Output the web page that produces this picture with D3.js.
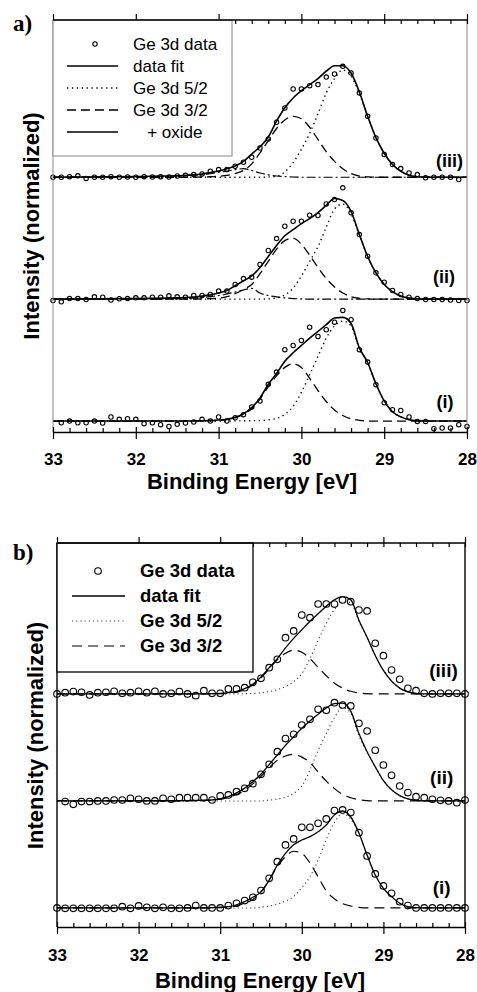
<!DOCTYPE html>
<html><head><meta charset="utf-8">
<script src="https://cdn.jsdelivr.net/npm/d3@7"></script>
<style>body{margin:0;background:#fff} svg{display:block}</style>
</head><body>
<svg id="chart" width="477" height="992"></svg>
<script>
// ---------- DATA ----------
const majorTicks = [33, 32, 31, 30, 29, 28];
const tickLabels = ["33", "32", "31", "30", "29", "28"];
const minorTicks = [32.8,32.6,32.4,32.2,31.8,31.6,31.4,31.2,30.8,30.6,30.4,30.2,29.8,29.6,29.4,29.2,28.8,28.6,28.4,28.2];
const spectrumLabels = ["(i)", "(ii)", "(iii)"];
const spectrumOffsets = [0, 1, 2];
const legendLabelsA = ["Ge 3d data", "data fit", "Ge 3d 5/2", "Ge 3d 3/2", "   + oxide"];
const legendLabelsB = ["Ge 3d data", "data fit", "Ge 3d 5/2", "Ge 3d 3/2"];
const xTitle = "Binding Energy [eV]";
const yTitle = "Intensity (normalized)";

// measured energies (eV)
const E = [33.0,32.9,32.8,32.7,32.6,32.5,32.4,32.3,32.2,32.1,32.0,31.9,31.8,31.7,31.6,31.5,31.4,31.3,31.2,31.1,31.0,
  30.9,30.8,30.7,30.6,30.5,30.4,30.3,30.2,30.1,30.0,29.9,29.8,29.7,29.6,29.5,29.4,29.3,29.2,29.1,29.0,
  28.9,28.8,28.7,28.6,28.5,28.4,28.3,28.2,28.1,28.0];
// energies at which the fit curves were read
const curveE = [33.0,31.5,31.4,31.3,31.2,31.1,31.0,30.9,30.8,30.7,30.6,30.5,30.4,30.3,30.2,30.1,30.0,
  29.9,29.8,29.7,29.6,29.5,29.4,29.3,29.2,29.1,29.0,28.9,28.8,28.7,28.6,28.5,28.0];

// Panel a) data points
const dataA_i = [null,-0.014,0,-0.014,-0.014,0,-0.016,0.033,0.014,0.019,0.014,-0.022,-0.014,-0.030,-0.044,-0.027,-0.016,-0.008,0.014,0,0.033,
  0,0.027,0.052,0.115,0.164,0.301,0.402,0.585,0.620,0.661,0.770,0.694,0.749,0.811,0.907,0.831,0.585,0.484,0.298,0.150,
  0.093,0.087,0.033,-0.003,-0.003,-0.063,-0.057,-0.057,-0.030,-0.044];
const dataA_ii = [-0.011,-0.022,0.005,0.005,-0.003,0.019,0.016,-0.008,0.003,0.005,0.011,0.011,0.016,0.016,0.027,0.019,0.016,0.030,0.030,0.038,0.066,
  0.066,0.120,0.169,0.180,0.284,0.399,0.497,0.598,0.639,0.639,0.689,0.686,0.781,0.817,0.913,0.708,0.530,0.352,0.216,0.139,
  0.071,0.038,0.016,0.005,-0.003,-0.003,-0.003,-0.008,-0.011,-0.011];
const dataA_iii = [0,0,0.005,0.012,-0.01,0,0,0.005,0,0.002,0,0.005,0.002,0.005,0.002,0.01,0.016,0.022,0.027,0.049,0.063,
  0.063,0.090,0.123,0.164,0.240,0.314,0.451,0.568,0.724,0.724,0.751,0.760,0.822,0.847,0.910,0.855,0.691,0.500,0.322,0.186,
  0.104,0.071,0.035,0.022,-0.005,0,0,0,-0.019,null];
// Panel a) fit curves
const fitA_i  = [0,0,0,0.001,0.002,0.004,0.008,0.015,0.03,0.06,0.11,0.19,0.30,0.39,0.49,0.56,0.62,0.68,0.735,0.79,0.845,0.85,0.80,0.60,0.48,0.306,0.165,0.076,0.034,0.011,0.003,0,0];
const d32A_i  = [0,0,0,0,0.001,0.002,0.005,0.012,0.027,0.055,0.10,0.18,0.28,0.37,0.44,0.47,0.44,0.35,0.25,0.16,0.09,0.045,0.018,0.006,0,0,0,0,0,0,0,0,0];
const d52A_i  = [0,0,0,0,0,0,0,0,0.001,0.002,0.003,0.004,0.01,0.022,0.055,0.12,0.235,0.38,0.53,0.68,0.78,0.82,0.78,0.595,0.478,0.306,0.165,0.076,0.034,0.011,0.003,0,0];
const fitA_ii = [0,0.01,0.013,0.018,0.025,0.035,0.05,0.07,0.11,0.15,0.19,0.26,0.35,0.44,0.52,0.57,0.62,0.66,0.71,0.77,0.825,0.81,0.72,0.53,0.35,0.216,0.12,0.062,0.025,0.008,0.002,0,0];
const d32A_ii = [0,0,0,0.001,0.002,0.004,0.008,0.02,0.045,0.08,0.12,0.21,0.31,0.41,0.48,0.50,0.45,0.36,0.26,0.17,0.10,0.05,0.02,0.007,0.002,0,0,0,0,0,0,0,0];
const d52A_ii = [0,0,0,0,0,0,0,0,0,0,0,0,0.002,0.01,0.035,0.09,0.19,0.31,0.43,0.59,0.74,0.78,0.70,0.525,0.35,0.215,0.12,0.062,0.025,0.008,0.002,0,0];
const oxA_ii  = [0,0.004,0.006,0.009,0.013,0.02,0.03,0.042,0.058,0.075,0.088,0.05,0.03,0.018,0.01,0.005,0.002,0,0,0,0,0,0,0,0,0,0,0,0,0,0,0,0];
const fitA_iii = [0,0.012,0.016,0.02,0.027,0.038,0.052,0.07,0.092,0.13,0.19,0.25,0.33,0.46,0.57,0.65,0.71,0.76,0.81,0.87,0.915,0.915,0.855,0.70,0.50,0.325,0.197,0.104,0.049,0.016,0.004,0,0];
const d32A_iii = [0,0,0,0.001,0.002,0.004,0.008,0.015,0.03,0.055,0.11,0.2,0.30,0.40,0.47,0.50,0.48,0.41,0.31,0.21,0.13,0.07,0.03,0.01,0.003,0,0,0,0,0,0,0,0];
const d52A_iii = [0,0,0,0,0,0,0,0,0,0,0,0,0.002,0.008,0.045,0.12,0.23,0.36,0.52,0.69,0.81,0.88,0.83,0.69,0.50,0.325,0.197,0.104,0.049,0.016,0.004,0,0];
const oxA_iii  = [0,0.01,0.013,0.017,0.022,0.03,0.04,0.05,0.062,0.07,0.055,0.035,0.02,0.01,0.005,0.002,0,0,0,0,0,0,0,0,0,0,0,0,0,0,0,0,0];

// Panel b) data points
const dataB_i = [0,-0.003,-0.003,-0.003,-0.003,-0.003,-0.003,-0.003,0.012,-0.003,0.019,0.006,-0.003,0.006,-0.003,-0.003,0,0.022,0,0,0,
  0.022,0.044,0.069,0.10,0.162,0.277,0.433,0.589,0.645,0.754,0.754,0.791,0.832,0.910,0.916,0.891,0.704,0.486,0.318,0.206,
  0.137,0.059,0.022,0,0,0,0,0,0,0];
const dataB_ii = [null,-0.006,-0.031,-0.006,-0.006,0,0,0.009,0.009,0.025,0.016,0,0,0.025,0.016,0.031,0.031,0.031,0.031,0.009,0.047,
  0.056,0.087,0.118,0.162,0.249,0.343,0.461,0.583,0.623,0.710,0.763,0.857,0.847,0.919,0.897,0.888,0.726,0.654,0.474,0.336,
  0.240,0.140,0.078,0.040,0.031,0.016,0.006,0,-0.016,0.009];
const dataB_iii = [0,0.012,0.022,0.016,-0.009,0.012,0.016,0.025,0.006,0.012,0.025,0.012,0.025,0,0.006,0.022,0,-0.016,0.031,0.006,0.006,
  0.047,0.047,0.059,0.109,0.146,0.246,0.324,0.526,0.589,0.738,0.713,0.841,0.841,0.84,0.879,0.863,0.785,0.776,0.474,0.358,
  0.224,0.137,0.053,0.031,0.006,0,0.006,0.006,0.006,0];
// Panel b) fit curves
const fitB_i  = [0,0,0,0.001,0.002,0.004,0.007,0.012,0.03,0.06,0.10,0.15,0.26,0.40,0.51,0.59,0.635,0.667,0.713,0.776,0.87,0.906,0.85,0.70,0.495,0.308,0.184,0.106,0.044,0.012,0.003,0,0];
const d32B_i  = [0,0,0,0,0.001,0.002,0.004,0.008,0.02,0.044,0.08,0.15,0.26,0.386,0.48,0.53,0.51,0.42,0.29,0.16,0.085,0.04,0.018,0.006,0,0,0,0,0,0,0,0,0];
const d52B_i  = [0,0,0,0,0,0,0,0,0,0,0,0.008,0.018,0.035,0.065,0.106,0.19,0.293,0.45,0.64,0.80,0.88,0.83,0.695,0.495,0.308,0.184,0.106,0.044,0.012,0.003,0,0];
const fitB_ii = [0,0.002,0.003,0.005,0.007,0.01,0.02,0.04,0.075,0.12,0.18,0.25,0.34,0.43,0.52,0.60,0.68,0.748,0.81,0.87,0.91,0.915,0.84,0.63,0.46,0.32,0.19,0.105,0.05,0.02,0.006,0,0];
const d32B_ii = [0,0.001,0.002,0.003,0.004,0.008,0.016,0.032,0.06,0.10,0.16,0.23,0.31,0.38,0.42,0.436,0.41,0.36,0.27,0.185,0.115,0.06,0.03,0.011,0.003,0,0,0,0,0,0,0,0];
const d52B_ii = [0,0,0,0,0,0,0,0,0,0,0,0,0.008,0.018,0.035,0.07,0.14,0.29,0.47,0.63,0.78,0.87,0.82,0.61,0.455,0.32,0.19,0.105,0.05,0.02,0.006,0,0];
const fitB_iii = [0,0,0,0,0.001,0.003,0.005,0.012,0.025,0.05,0.09,0.16,0.245,0.33,0.43,0.52,0.60,0.68,0.75,0.82,0.88,0.91,0.88,0.69,0.53,0.36,0.22,0.12,0.055,0.02,0.005,0,0];
const d32B_iii = [0,0,0,0,0.001,0.001,0.002,0.007,0.018,0.04,0.085,0.15,0.235,0.32,0.38,0.41,0.39,0.33,0.25,0.17,0.10,0.055,0.025,0.01,0.003,0,0,0,0,0,0,0,0];
const d52B_iii = [0,0,0,0,0,0,0,0,0.001,0.003,0.005,0.012,0.022,0.04,0.07,0.115,0.19,0.33,0.50,0.66,0.79,0.86,0.855,0.68,0.53,0.36,0.22,0.12,0.055,0.02,0.005,0,0];

// ---------- DRAWING ----------
const svg = d3.select("#chart");
const SANS = "'Liberation Sans', Arial, Helvetica, sans-serif";
const SERIF = "'Liberation Serif', 'Times New Roman', serif";

const panels = [
  {
    letter: "a)", letterX: 13, letterY: 31,
    left: 53, right: 467, top: 20, bottom: 432, yDomain: [-0.09, 3.29],
    sideColor: "#888", sideWidth: 1, axisWidth: 1.3,
    spectra: [
      {data: dataA_i, fit: fitA_i, d32: d32A_i, d52: d52A_i},
      {data: dataA_ii, fit: fitA_ii, d32: d32A_ii, d52: d52A_ii, ox: oxA_ii},
      {data: dataA_iii, fit: fitA_iii, d32: d32A_iii, d52: d52A_iii, ox: oxA_iii}
    ],
    labelPos: [[445, 13], [444, 16], [449.5, 10]], labelSize: 18,
    pointR: 2.2, pointW: 1.1,
    fitW: 1.6, dashW: 1.3, dashArr: "9,5", dotW: 1.4, dotArr: "1.3,3.6", dotColor: "#000", oxArr: "9,3,2,3",
    tickLabelY: 33, tickLabelSize: 17,
    xTitleX: 252, xTitleY: 489, xTitleSize: 22,
    yTitleX: 39, yTitleY: 226, yTitleSize: 22,
    legend: {x: 53, y: 20, w: 179, h: 136, stroke: "#888", sw: 1, labels: legendLabelsA,
      textX: 133, rowY0: 50, rowDY: 22, symX0: 67, symX1: 118, circX: 95, fs: 17, weight: "normal",
      kinds: ["point", "fit", "d52", "d32", "fit"]}
  },
  {
    letter: "b)", letterX: 13, letterY: 560,
    left: 57, right: 465, top: 543, bottom: 927, yDomain: [-0.178, 3.411],
    sideColor: "#000", sideWidth: 1.4, axisWidth: 1.4,
    spectra: [
      {data: dataB_i, fit: fitB_i, d32: d32B_i, d52: d52B_i},
      {data: dataB_ii, fit: fitB_ii, d32: d32B_ii, d52: d52B_ii},
      {data: dataB_iii, fit: fitB_iii, d32: d32B_iii, d52: d52B_iii}
    ],
    labelPos: [[441.7, 14], [441.7, 17], [443.5, 17]], labelSize: 19,
    pointR: 3.3, pointW: 1.1,
    fitW: 1.3, dashW: 1.2, dashArr: "10,6", dotW: 1.1, dotArr: "1.1,3.1", dotColor: "#333", oxArr: "9,3,2,3",
    tickLabelY: 34, tickLabelSize: 17,
    xTitleX: 260, xTitleY: 988, xTitleSize: 22,
    yTitleX: 42.5, yTitleY: 735.5, yTitleSize: 22,
    legend: {x: 57, y: 543, w: 196, h: 129, stroke: "#000", sw: 1.3, labels: legendLabelsB,
      textX: 140, rowY0: 577, rowDY: 25, symX0: 72, symX1: 125, circX: 98, fs: 18.5, weight: "bold",
      kinds: ["point", "fit", "d52", "d32"]}
  }
];

function drawPanel(p) {
  const g = svg.append("g");
  const x = d3.scaleLinear().domain([33, 28]).range([p.left, p.right]);
  const y = d3.scaleLinear().domain(p.yDomain).range([p.bottom, p.top]);

  const styles = {
    fit: s => s.attr("stroke", "#000").attr("stroke-width", p.fitW),
    d32: s => s.attr("stroke", "#000").attr("stroke-width", p.dashW).attr("stroke-dasharray", p.dashArr),
    d52: s => s.attr("stroke", p.dotColor).attr("stroke-width", p.dotW).attr("stroke-dasharray", p.dotArr),
    ox:  s => s.attr("stroke", "#000").attr("stroke-width", 1.2).attr("stroke-dasharray", p.oxArr)
  };

  p.spectra.forEach((s, i) => {
    const off = spectrumOffsets[i];
    const line = d3.line()
      .defined(d => d[1] != null)
      .x(d => x(d[0])).y(d => y(d[1] + off))
      .curve(d3.curveMonotoneX);
    const pairs = vals => curveE.map((e, j) => [e, vals[j]]);
    ["ox", "d32", "d52", "fit"].forEach(k => {
      if (!s[k]) return;
      g.append("path").attr("d", line(pairs(s[k]))).attr("fill", "none").call(styles[k]);
    });
    g.append("g").selectAll("circle")
      .data(E.map((e, j) => [e, s.data[j]]).filter(d => d[1] != null))
      .join("circle")
      .attr("cx", d => x(d[0])).attr("cy", d => y(d[1] + off))
      .attr("r", p.pointR).attr("fill", "none").attr("stroke", "#000").attr("stroke-width", p.pointW);
    g.append("text")
      .attr("x", p.labelPos[i][0]).attr("y", y(off) - p.labelPos[i][1])
      .attr("text-anchor", "middle").attr("font-family", SANS).attr("font-weight", "bold")
      .attr("font-size", p.labelSize).text(spectrumLabels[i]);
  });

  // side borders
  [33, 28].forEach(v => {
    g.append("line").attr("x1", x(v)).attr("x2", x(v)).attr("y1", p.top).attr("y2", p.bottom)
      .attr("stroke", p.sideColor).attr("stroke-width", p.sideWidth);
  });

  const styleAxis = (sel, keepDomain) => {
    sel.selectAll("line").attr("stroke", "#000").attr("stroke-width", 1.2);
    sel.select(".domain").attr("stroke", keepDomain ? "#000" : "none").attr("stroke-width", p.axisWidth);
  };

  // top axis (ticks)
  const topOut = g.append("g").attr("transform", `translate(0,${p.top})`)
    .call(d3.axisTop(x).tickValues(majorTicks).tickSize(6).tickSizeOuter(0).tickFormat(""));
  styleAxis(topOut, false);
  const topIn = g.append("g").attr("transform", `translate(0,${p.top})`)
    .call(d3.axisTop(x).tickValues(majorTicks).tickSize(-4).tickSizeOuter(0).tickFormat(""));
  styleAxis(topIn, false);
  const topMinor = g.append("g").attr("transform", `translate(0,${p.top})`)
    .call(d3.axisTop(x).tickValues(minorTicks).tickSize(-4).tickSizeOuter(0).tickFormat(""));
  styleAxis(topMinor, false);

  // bottom axis with labels
  const bot = g.append("g").attr("transform", `translate(0,${p.bottom})`)
    .call(d3.axisBottom(x).tickValues(majorTicks).tickSize(7).tickSizeOuter(0)
      .tickFormat((d, i) => tickLabels[i]));
  styleAxis(bot, true);
  bot.selectAll("text").attr("dy", null).attr("y", p.tickLabelY)
    .attr("font-family", SANS).attr("font-weight", "bold").attr("font-size", p.tickLabelSize).attr("fill", "#000");
  const botIn = g.append("g").attr("transform", `translate(0,${p.bottom})`)
    .call(d3.axisBottom(x).tickValues(majorTicks).tickSize(-5).tickSizeOuter(0).tickFormat(""));
  styleAxis(botIn, false);
  const botMinor = g.append("g").attr("transform", `translate(0,${p.bottom})`)
    .call(d3.axisBottom(x).tickValues(minorTicks).tickSize(-4).tickSizeOuter(0).tickFormat(""));
  styleAxis(botMinor, false);

  // legend
  const L = p.legend;
  const lg = g.append("g");
  lg.append("rect").attr("x", L.x).attr("y", L.y).attr("width", L.w).attr("height", L.h)
    .attr("fill", "#fff").attr("stroke", L.stroke).attr("stroke-width", L.sw);
  L.labels.forEach((lab, i) => {
    const by = L.rowY0 + i * L.rowDY;
    const sy = by - 6;
    const kind = L.kinds[i];
    if (kind === "point") {
      lg.append("circle").attr("cx", L.circX).attr("cy", sy).attr("r", p.pointR)
        .attr("fill", "none").attr("stroke", "#000").attr("stroke-width", p.pointW);
    } else {
      lg.append("line").attr("x1", L.symX0).attr("x2", L.symX1).attr("y1", sy).attr("y2", sy)
        .call(styles[kind]);
    }
    lg.append("text").attr("x", L.textX).attr("y", by)
      .attr("font-family", SANS).attr("font-size", L.fs).attr("font-weight", L.weight)
      .style("white-space", "pre").text(lab);
  });

  // redraw top frame line over legend
  g.append("line").attr("x1", x(33)).attr("x2", x(28)).attr("y1", p.top).attr("y2", p.top)
    .attr("stroke", "#000").attr("stroke-width", p.axisWidth);

  // titles
  g.append("text").attr("x", p.xTitleX).attr("y", p.xTitleY).attr("text-anchor", "middle")
    .attr("font-family", SANS).attr("font-weight", "bold").attr("font-size", p.xTitleSize).text(xTitle);
  g.append("text").attr("transform", `translate(${p.yTitleX},${p.yTitleY}) rotate(-90)`)
    .attr("text-anchor", "middle")
    .attr("font-family", SANS).attr("font-weight", "bold").attr("font-size", p.yTitleSize).text(yTitle);
  g.append("text").attr("x", p.letterX).attr("y", p.letterY)
    .attr("font-family", SERIF).attr("font-weight", "bold").attr("font-size", 23).text(p.letter);
}

panels.forEach(drawPanel);
</script>
</body></html>
